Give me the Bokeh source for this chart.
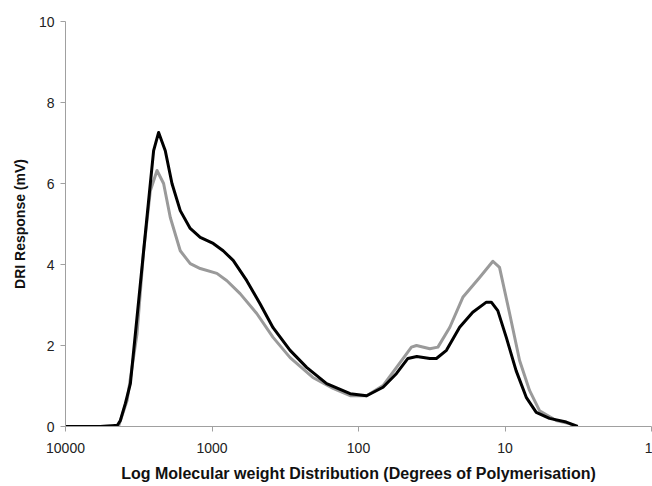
from bokeh.plotting import figure
from bokeh.models import Range1d, FixedTicker, CustomJSTickFormatter
from bokeh.embed import file_html
from bokeh.resources import INLINE

# Degrees of polymerisation (x, log scale, reversed) and DRI response (mV)
black_dp = [10000, 5777, 4784, 4424, 4221, 3902, 3607, 3249, 2928, 2636, 2503, 2314,
            2084, 1876, 1647, 1408, 1203, 981, 839, 717, 579, 470, 383, 293, 226, 165,
            114, 88, 68, 55, 46, 40, 32.6, 29.4, 25.1, 20.4, 16.6, 13.4, 12.4, 11.2,
            9.8, 8.4, 7.16, 6.12, 4.97, 3.82, 3.19]
black_mv = [0, 0, 0.02, 0.03, 0.15, 0.57, 1.06, 2.70, 4.34, 6.00, 6.81, 7.26,
            6.81, 6.00, 5.33, 4.89, 4.67, 4.52, 4.34, 4.10, 3.60, 3.03, 2.44, 1.88, 1.46, 1.06,
            0.81, 0.76, 0.97, 1.31, 1.68, 1.73, 1.68, 1.68, 1.88, 2.45, 2.82, 3.07, 3.07, 2.86,
            2.20, 1.38, 0.72, 0.35, 0.20, 0.11, 0.0]

gray_dp = [10000, 5777, 4334, 3798, 3249, 2928, 2636, 2373, 2140, 1926, 1647, 1408,
           1203, 926, 791, 643, 495, 383, 293, 205, 149, 114, 88, 68, 55, 43.5, 40.2,
           32.6, 28.7, 23.8, 19.4, 14.9, 12.1, 10.9, 9.3, 7.95, 6.80, 5.81, 4.47, 3.63, 3.3]
gray_mv = [0, 0, 0.02, 0.64, 2.29, 4.34, 5.82, 6.32, 6.00, 5.16, 4.34, 4.02,
           3.90, 3.78, 3.60, 3.28, 2.79, 2.20, 1.70, 1.21, 0.94, 0.76, 0.76, 1.01, 1.46, 1.96, 2.00,
           1.92, 1.96, 2.45, 3.19, 3.68, 4.08, 3.93, 2.79, 1.63, 0.89, 0.39, 0.15, 0.07, 0.0]

x_ticks = [10000, 1000, 100, 10, 1]
y_ticks = [0, 2, 4, 6, 8, 10]
x_title = "Log Molecular weight Distribution (Degrees of Polymerisation)"
y_title = "DRI Response (mV)"

p = figure(width=652, height=486, x_axis_type="log",
           x_range=Range1d(10000, 1), y_range=Range1d(0, 10),
           output_backend="svg", toolbar_location=None,
           min_border_left=65, min_border_right=1, min_border_top=21, min_border_bottom=60)

p.line(gray_dp, gray_mv, line_color="#9a9a9a", line_width=3, line_join="round")
p.line(black_dp, black_mv, line_color="#000000", line_width=3, line_join="round")

p.grid.visible = False
p.outline_line_color = None
p.background_fill_color = "white"
p.border_fill_color = "white"

p.xaxis.ticker = FixedTicker(ticks=x_ticks, minor_ticks=[])
p.xaxis.formatter = CustomJSTickFormatter(code="return String(Math.round(tick));")
p.yaxis.ticker = FixedTicker(ticks=y_ticks, minor_ticks=[])

for ax in (p.xaxis[0], p.yaxis[0]):
    ax.axis_line_color = "#a0a0a0"
    ax.axis_line_width = 1
    ax.major_tick_line_color = "#a0a0a0"
    ax.major_tick_in = 0
    ax.major_tick_out = 5
    ax.minor_tick_line_color = None
    ax.major_label_text_font = "Liberation Sans"
    ax.major_label_text_font_size = "14px"
    ax.major_label_text_color = "#222222"
    ax.axis_label_text_font = "Liberation Sans"
    ax.axis_label_text_font_style = "bold"
    ax.axis_label_text_color = "#111111"

p.xaxis.axis_label = x_title
p.xaxis.axis_label_text_font_size = "16px"
p.xaxis.major_label_standoff = 11
p.xaxis.axis_label_standoff = 9

p.yaxis.axis_label = y_title
p.yaxis.axis_label_text_font_size = "14px"
p.yaxis.major_label_standoff = 6
p.yaxis.axis_label_standoff = 8

open("out.html", "w").write(file_html(p, INLINE))
